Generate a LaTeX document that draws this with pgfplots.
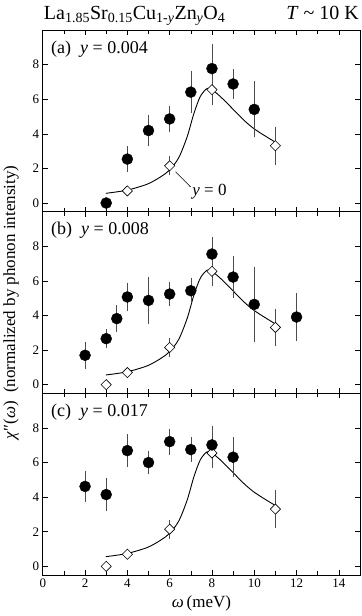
\documentclass[border=0pt]{standalone}
\usepackage{fontspec}
\setmainfont{Liberation Serif}
\usepackage{pgfplots}
\pgfplotsset{compat=1.18}
\usepgfplotslibrary{groupplots}

\pgfplotsset{
  panel/.style={scale only axis, width=317.3pt, height=181.7pt,
    xmin=0, xmax=15, ymin=-0.5, ymax=10,
    xtick={0,2,...,14}, minor xtick={1,3,...,13}, ytick={0,2,4,6,8},
    tick align=inside, major tick length=5pt, minor tick length=4pt,
    tick style={line width=0.6pt, black},
    axis line style={line width=0.8pt},
    tick label style={font=\fontsize{13}{13}\selectfont},
    /pgf/number format/assume math mode=true, clip=false},
  circ/.style={only marks, mark=*, mark size=5.5pt, black,
    mark options={fill=black},
    error bars/.cd, y dir=both, y explicit,
    error bar style={black!70, line width=0.6pt},
    error mark options={black!70, mark size=2pt, line width=0.6pt}},
  diam/.style={only marks, mark=square*, mark size=3.6pt,
    mark options={rotate=45, fill=white, draw=black, line width=0.6pt},
    error bars/.cd, y dir=both, y explicit,
    error bar style={black!70, line width=0.6pt},
    error mark options={black!70, mark size=2pt, line width=0.6pt}},
  fitline/.style={smooth, black, line width=0.9pt, no markers},
}

\newcommand{\refdata}{%
  \addplot[fitline] coordinates {(2.98,0.56)(3.97,0.74)(4.94,1.09)(5.57,1.51)(5.99,1.90)(6.43,2.62)(6.83,3.84)(7.14,5.15)(7.45,6.16)(7.77,6.62)(8.0,6.55)(8.39,6.16)(8.87,5.58)(9.49,4.81)(9.96,4.32)(10.43,3.94)(10.95,3.55)};
  \addplot[diam] coordinates {(3,0) +- (0,0) (4,0.70) +- (0,0) (6,2.15) +- (0,0.43) (8,6.55) +- (0,0.75) (11,3.31) +- (0,0.97)};
}

\begin{document}
\begin{tikzpicture}
\begin{groupplot}[group style={group size=1 by 3, vertical sep=0pt,
    xticklabels at=edge bottom}, panel]

\nextgroupplot
\refdata
\addplot[circ] coordinates {(3,0) +- (0,0) (4,2.54) +- (0,0.62) (5,4.19) +- (0,0.8) (6,4.86) +- (0,0.66) (7,6.41) +- (0,1.1) (8,7.77) +- (0,1.28) (9,6.88) +- (0,0.73) (10,5.41) +- (0,1.5)};
\draw[line width=0.6pt] (axis cs:6.28,1.8) -- (axis cs:6.99,0.93);
\node[anchor=west, inner sep=1pt, font=\fontsize{17}{17}\selectfont] at (axis cs:7.02,0.66) {\textit{y} = 0};
\node[anchor=west, inner sep=0pt, font=\fontsize{18}{18}\selectfont] at (rel axis cs:0.026,0.893) {(a)\ \ \textit{y} = 0.004};

\nextgroupplot
\refdata
\addplot[circ] coordinates {(2,1.70) +- (0,0.67) (3,2.66) +- (0,0.43) (3.5,3.82) +- (0,0.65) (4,5.07) +- (0,0.7) (5,4.87) +- (0,1.25) (6,5.24) +- (0,0.57) (7,5.43) +- (0,0.6) (8,7.55) +- (0,0.87) (9,6.22) +- (0,1.1) (10,4.64) +- (0,2.07) (12,3.91) +- (0,1.26)};
\node[anchor=west, inner sep=0pt, font=\fontsize{18}{18}\selectfont] at (rel axis cs:0.026,0.90) {(b)\ \ \textit{y} = 0.008};

\nextgroupplot
\refdata
\addplot[circ] coordinates {(2,4.62) +- (0,0.8) (3,4.15) +- (0,0.83) (4,6.69) +- (0,0.83) (5,6.0) +- (0,0.57) (6,7.21) +- (0,0.63) (7,6.75) +- (0,0.6) (8,7.02) +- (0,1.0) (9,6.31) +- (0,1.03)};
\node[anchor=west, inner sep=0pt, font=\fontsize{18}{18}\selectfont] at (rel axis cs:0.026,0.894) {(c)\ \ \textit{y} = 0.017};
\end{groupplot}

\node[anchor=base west, inner sep=0pt, font=\fontsize{20}{20}\selectfont]
  at ([xshift=1pt,yshift=10.7pt]group c1r1.north west)
  {La\textsubscript{1.85}Sr\textsubscript{0.15}Cu\textsubscript{1-\textit{y}}Zn\textsubscript{\textit{y}}O\textsubscript{4}};
\node[anchor=base east, inner sep=0pt, font=\fontsize{20}{20}\selectfont]
  at ([xshift=-1pt,yshift=10.7pt]group c1r1.north east)
  {\textit{T} \textasciitilde{} 10 K};
\node[rotate=90, font=\fontsize{17}{17}\selectfont]
  at ([xshift=-31.7pt]group c1r2.west)
  {\textit{χ}″(\textit{ω})\ \ (normalized by phonon intensity)};
\node[font=\fontsize{17}{17}\selectfont]
  at ([yshift=-28pt]group c1r3.south) {\textit{ω}\,(meV)};
\path ([xshift=-41.7pt,yshift=30pt]group c1r1.north west) rectangle ([xshift=1pt,yshift=-41pt]group c1r3.south east);
\end{tikzpicture}
\end{document}
